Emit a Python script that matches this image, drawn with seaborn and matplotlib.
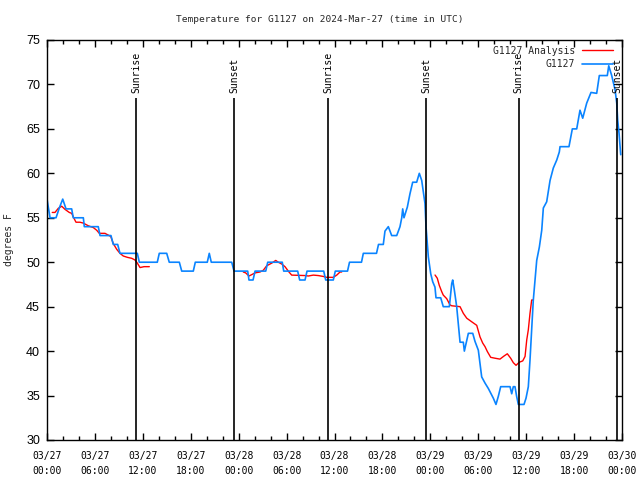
import matplotlib
matplotlib.use("Agg")
import matplotlib.pyplot as plt
import matplotlib.dates as mdates
from matplotlib.lines import Line2D
import numpy as np
import pandas as pd
import seaborn as sns

# ---- data (hours since 2024-03-27 00:00 UTC, temperature in deg F) ----
obs_hours = [0.0, 0.38, 1.13, 1.54, 1.97, 2.38, 3.09, 3.29, 4.55, 4.67, 6.42, 6.64, 8.01, 8.30,
             8.85, 9.14, 11.31, 11.56, 13.81, 14.06, 14.99, 15.31, 16.57, 16.87, 18.32, 18.57,
             20.07, 20.32, 20.57, 23.13, 23.42, 25.13, 25.29, 25.80, 26.05, 27.39, 27.64, 29.46,
             29.64, 31.39, 31.64, 32.31, 32.56, 34.65, 34.90, 35.85, 36.10, 37.63, 37.88, 39.38,
             39.61, 41.26, 41.51, 42.11, 42.32, 42.74, 43.16, 43.79, 44.20, 44.42, 44.54, 44.70,
             45.12, 45.45, 45.79, 46.29, 46.62, 46.92, 47.33, 47.46, 47.75, 48.05, 48.30, 48.58,
             48.71, 49.30, 49.62, 50.38, 50.68, 50.80, 51.00, 51.30, 51.50, 51.72, 52.13, 52.26,
             52.56, 52.76, 53.31, 53.59, 54.01, 54.22, 54.43, 54.85, 55.26, 55.89, 56.22, 56.51,
             56.81, 57.98, 58.19, 58.39, 58.60, 58.81, 59.02, 59.73, 59.98, 60.27, 60.48, 60.69,
             60.89, 61.11, 61.32, 61.65, 61.95, 62.15, 62.57, 62.99, 63.40, 63.83, 64.15, 64.24,
             65.36, 65.78, 66.33, 66.74, 67.08, 67.58, 68.12, 68.83, 69.16, 70.16, 70.34, 70.71,
             71.13, 71.34, 71.46, 71.63, 71.84]
obs_temp = [57.1, 55.0, 55.0, 56.1, 57.1, 56.0, 56.0, 55.0, 55.0, 54.0, 54.0, 53.0, 53.0, 52.0,
            52.0, 51.0, 51.0, 50.0, 50.0, 51.0, 51.0, 50.0, 50.0, 49.0, 49.0, 50.0,
            50.0, 51.0, 50.0, 50.0, 49.0, 49.0, 48.0, 48.0, 49.0, 49.0, 50.0, 50.0,
            49.0, 49.0, 48.0, 48.0, 49.0, 49.0, 48.0, 48.0, 49.0, 49.0, 50.0, 50.0,
            51.0, 51.0, 52.0, 52.0, 53.5, 54.0, 53.0, 53.0, 54.0, 55.0, 56.0, 55.0,
            56.2, 57.7, 59.0, 59.0, 60.0, 59.2, 56.6, 54.0, 50.6, 48.7, 47.8, 47.2,
            46.0, 46.0, 45.0, 45.0, 47.6, 48.0, 46.9, 45.0, 43.1, 41.0, 41.0, 40.0,
            41.2, 42.0, 42.0, 41.1, 40.1, 38.6, 37.1, 36.4, 35.8, 34.7, 34.0, 34.9,
            36.0, 36.0, 35.2, 36.0, 36.0, 34.9, 34.0, 34.0, 34.7, 36.0, 39.0, 42.4,
            45.7, 48.0, 50.2, 51.7, 53.6, 56.1, 56.8, 59.2, 60.6, 61.5, 62.4, 63.0,
            63.0, 65.0, 65.0, 67.1, 66.2, 67.9, 69.1, 69.0, 71.0, 71.0, 72.1, 71.0,
            69.4, 67.9, 66.0, 64.5, 62.1]

ana_hours = [0.66, 1.00, 1.41, 1.84, 2.25, 2.79, 3.09, 3.29, 3.63, 4.13, 4.55, 5.17, 5.80, 6.22,
             6.55, 7.26, 7.98, 8.30, 8.73, 9.14, 9.55, 10.06, 10.61, 11.02, 11.31, 11.65, 12.15,
             12.81,
             24.58, 24.88, 25.29, 25.63, 26.05, 26.67, 27.09, 27.51, 28.14, 28.64, 28.96, 29.39,
             29.80, 30.30, 30.64, 32.31, 32.72, 33.35, 33.97, 34.60, 35.02, 35.85, 36.28, 36.69,
             36.90,
             48.59, 48.87, 49.12, 49.42, 49.62, 50.05, 50.46, 50.68, 51.72, 52.13, 52.56, 53.18,
             53.81, 54.22, 54.56, 54.85, 55.14, 55.56, 56.10, 56.72, 57.23, 57.64, 58.06, 58.39,
             58.73, 59.14, 59.57, 59.86, 60.07, 60.27, 60.48, 60.69, 60.89]
ana_temp = [55.6, 55.6, 56.06, 56.3, 55.95, 55.6, 55.5, 55.1, 54.5, 54.5, 54.4, 54.1, 53.9, 53.6,
            53.25, 53.25, 52.9, 52.1, 51.45, 51.0, 50.7, 50.55, 50.44, 50.25, 49.9, 49.4, 49.5,
            49.5,
            48.9, 48.8, 48.45, 48.6, 48.8, 48.9, 49.1, 49.6, 49.9, 50.2, 50.0, 49.8,
            49.5, 48.9, 48.55, 48.5, 48.45, 48.55, 48.5, 48.4, 48.3, 48.3, 48.55, 48.9,
            48.9,
            48.56, 48.2, 47.4, 46.7, 46.3, 45.9, 45.2, 45.1, 45.0, 44.25, 43.7, 43.3,
            42.9, 41.6, 40.9, 40.5, 39.95, 39.3, 39.2, 39.1, 39.45, 39.7, 39.2, 38.7,
            38.4, 38.75, 38.9, 39.4, 41.25, 42.4, 44.25, 45.75, 45.75]
ana_segment = [0] * 28 + [1] * 25 + [2] * 33

sun_times = ["2024-03-27 11:08", "2024-03-27 23:25", "2024-03-28 11:11",
             "2024-03-28 23:28", "2024-03-29 11:03", "2024-03-29 23:26"]
sun_labels = ["Sunrise", "Sunset", "Sunrise", "Sunset", "Sunrise", "Sunset"]

title = "Temperature for G1127 on 2024-Mar-27 (time in UTC)"
ylabel = "degrees F"
obs_name = "G1127"
ana_name = "G1127 Analysis"

# ---- build frames ----
base = pd.Timestamp("2024-03-27 00:00")
obs = pd.DataFrame({"time": base + pd.to_timedelta(obs_hours, unit="h"), "temp": obs_temp})
ana = pd.DataFrame({"time": base + pd.to_timedelta(ana_hours, unit="h"), "temp": ana_temp,
                    "seg": ana_segment})

sns.set_style("ticks")
mono = "DejaVu Sans Mono"
plt.rcParams["font.family"] = [mono]

fig = plt.figure(figsize=(6.4, 4.8), dpi=100)
ax = fig.add_axes([47 / 640, 40 / 480, 575 / 640, 400 / 480])

red = "#ff0000"
blue = "#0a84ff"
sns.lineplot(data=ana, x="time", y="temp", units="seg", estimator=None, sort=False,
             color=red, lw=1.0, ax=ax)
sns.lineplot(data=obs, x="time", y="temp", estimator=None, sort=False,
             color=blue, lw=1.2, ax=ax)

# sunrise / sunset markers
for t, lab in zip(pd.to_datetime(sun_times), sun_labels):
    ax.vlines(t, 30, 68.5, color="black", lw=1.2, zorder=3)
    ax.text(t, 69.0, lab, rotation=90, ha="center", va="bottom", fontsize=7,
            family=mono, color="black")

ax.set_xlim(base, base + pd.Timedelta(hours=72))
ax.set_ylim(30, 75)
ax.set_yticks(np.arange(30, 76, 5))
ax.xaxis.set_major_locator(mdates.HourLocator(byhour=[0, 6, 12, 18]))
ax.xaxis.set_minor_locator(mdates.HourLocator(interval=2))
ax.xaxis.set_major_formatter(mdates.DateFormatter("%m/%d\n%H:%M"))

ax.tick_params(axis="both", which="both", direction="in", top=True, right=True,
               colors="black", width=1.0)
ax.tick_params(axis="both", which="major", length=5)
ax.tick_params(axis="x", which="major", labelsize=7, pad=8)
ax.tick_params(axis="y", which="major", labelsize=9, pad=5)
ax.tick_params(axis="x", which="minor", length=3)
for lbl in ax.get_xticklabels():
    lbl.set_linespacing(1.6)
for lbl in ax.get_yticklabels():
    lbl.set_family("Liberation Sans")
for sp in ax.spines.values():
    sp.set_visible(True)
    sp.set_linewidth(1.0)
    sp.set_color("black")

ax.set_xlabel("")
ax.set_ylabel(ylabel, fontsize=7, family=mono, labelpad=9)
fig.text(0.5, 1 - 20 / 480, title, ha="center", va="center", fontsize=6.8, family=mono)

handles = [Line2D([], [], color=red, lw=1.0), Line2D([], [], color=blue, lw=1.2)]
leg = ax.legend(handles, [ana_name, obs_name], loc="upper right", frameon=False,
                markerfirst=False, fontsize=7, handlelength=3.2, borderaxespad=0.2,
                labelspacing=0.35, handletextpad=0.7, bbox_to_anchor=(0.995, 1.0))
for txt in leg.get_texts():
    txt.set_family(mono)
    txt.set_ha("right")
leg._legend_box.align = "right"

fig.savefig("out.png", dpi=100)
